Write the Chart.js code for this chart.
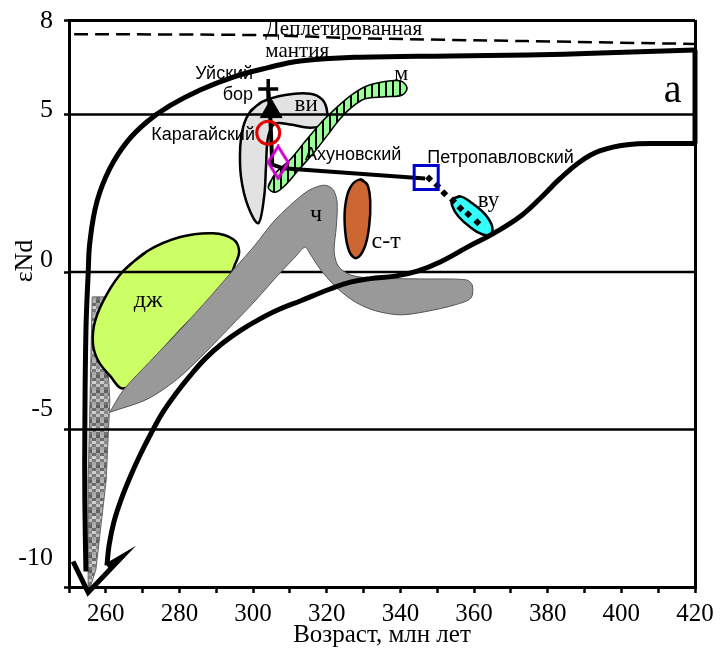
<!DOCTYPE html>
<html>
<head>
<meta charset="utf-8">
<script src="https://cdn.jsdelivr.net/npm/chart.js@4.4.1/dist/chart.umd.min.js"></script>
<style>
  html, body { margin: 0; padding: 0; background: #fff; }
  canvas { display: block; }
</style>
</head>
<body>
<canvas id="c" width="722" height="654"></canvas>
<script>
// ---- axes ----
const xTickValues = [250, 260, 270, 280, 290, 300, 310, 320, 330, 340, 350, 360, 370, 380, 390, 400, 410, 420];
const xTickLabels = ['260', '280', '300', '320', '340', '360', '380', '400', '420'];
const yTickValues = [8, 5, 0, -5, -10];
const yTickLabels = ['8', '5', '0', '-5', '-10'];
const levelLines = [5, 0, -5];

// ---- depleted mantle (age, εNd) ----
const depletedMantle = [[251.4, 7.55], [302, 7.52], [329.1, 7.42], [374.5, 7.33], [420, 7.24]];

// ---- evolution envelope ----
const envelopeLower = [[260.3, -9.32], [260.9, -8.66], [262.2, -7.93], [264.1, -7.24], [266.6, -6.51], [269.3, -5.81],
  [272.3, -5.12], [275.5, -4.45], [279.1, -3.85], [282.9, -3.29], [287.0, -2.75], [291.6, -2.27], [296.5, -1.86],
  [301.4, -1.52], [306.8, -1.20], [312.8, -0.92], [320.9, -0.54], [326.4, -0.32], [331.8, -0.21], [338.6, -0.13],
  [344.6, 0.03], [350.8, 0.32], [358.2, 0.79], [365.8, 1.26], [372.6, 1.77], [378.0, 2.34], [383.4, 2.97],
  [388.9, 3.51], [394.3, 3.85], [401.6, 4.04], [410.6, 4.08], [420, 4.08]];
const envelopeRight = [[420, 4.08], [420, 7.05]];
const envelopeUpper = [[420, 7.05], [394.3, 6.95], [374.5, 6.89], [353.5, 6.86], [329.1, 6.82], [312.8, 6.70],
  [303.8, 6.48], [294.6, 6.19], [285.6, 5.78], [277.4, 5.28], [271.2, 4.77], [265.8, 4.14], [261.1, 3.29],
  [257.6, 2.24], [255.7, 0.98], [255.2, -0.06], [254.6, -1.86], [254.3, -5.02], [254.3, -7.24], [254.6, -9.51]];
const arrowHead = [[260.3, -9.32], [264.4, -9.04], [255.2, -10.17], [251.1, -9.19]];

// ---- fields ----
const wedgeField = [[256.3, -0.79], [259.5, -0.79], [261.1, -4.08], [260.1, -6.60], [257.3, -9.45], [255.4, -10.14],
  [255.2, -6.60], [255.7, -4.08]];
const djField = [[264.7, 0.03], [271.2, 0.66], [280.2, 1.11], [289.1, 1.23], [294.6, 1.04], [296.2, 0.66], [295.1, 0.25],
  [292.4, -0.44], [280.2, -1.86], [269.3, -3.29], [264.7, -3.70], [261.1, -3.29], [257.9, -2.81], [256.5, -2.27],
  [257.1, -1.55], [260.3, -0.70]];
const viField = [[299.2, 5.09], [302.4, 5.40], [308.7, 5.62], [315.5, 5.66], [318.8, 5.47], [320.1, 5.09], [319.6, 4.71],
  [315.5, 4.58], [310.1, 4.68], [306.0, 4.71], [304.1, 4.30], [303.5, 3.35], [303.0, 2.40], [301.4, 1.55],
  [298.6, 2.09], [296.7, 3.03], [296.5, 3.98], [297.3, 4.61]];
const mField = [[304.1, 2.69], [306.0, 3.13], [310.1, 3.57], [314.1, 4.14], [318.2, 4.71], [322.3, 5.18], [326.4, 5.59],
  [330.4, 5.88], [335.1, 6.03], [339.9, 6.07], [341.8, 5.85], [340.5, 5.62], [335.9, 5.56], [330.4, 5.50],
  [326.6, 5.21], [323.4, 4.83], [320.1, 4.33], [316.3, 3.76], [312.2, 3.22], [308.7, 2.75], [306.0, 2.53]];
const chField = [[261.1, -4.45], [264.7, -3.76], [272.0, -2.84], [280.2, -1.83], [288.3, -0.79], [295.1, 0.13],
  [300.5, 0.85], [305.4, 1.58], [310.1, 2.12], [314.7, 2.56], [317.7, 2.72], [319.8, 2.75], [321.7, 2.62],
  [322.8, 2.24], [322.6, 1.45], [322.0, 0.66], [323.1, 0.19], [326.4, -0.09], [331.8, -0.19], [345.4, -0.22],
  [357.9, -0.25], [359.5, -0.41], [359.2, -0.82], [354.9, -1.04], [346.7, -1.26], [339.9, -1.36], [333.2, -1.23],
  [327.7, -0.95], [322.8, -0.51], [318.2, 0.09], [315.5, 0.57], [314.1, 0.79], [311.7, 0.51], [307.3, -0.03],
  [300.5, -0.92], [293.8, -1.74], [287.0, -2.56], [279.6, -3.38], [271.2, -4.04], [261.1, -4.45]];
const stField = [[329.1, 2.94], [331.0, 2.78], [331.8, 2.24], [331.5, 1.45], [330.2, 0.76], [328.0, 0.44],
  [326.1, 0.66], [325.0, 1.30], [325.0, 2.09], [326.4, 2.69]];
const vuField = [[354.1, 2.31], [356.3, 2.40], [359.5, 2.18], [363.0, 1.83], [364.9, 1.45], [364.4, 1.20],
  [362.2, 1.20], [359.0, 1.42], [355.7, 1.77], [354.1, 2.09]];

// ---- massifs ----
const uyskyBor = [304.1, 5.81];
const uyskyTriangle = [304.9, 5.10];
const karagaysky = [304.1, 4.42];
const akhunovsky = [306.8, 3.48];
const petropavlovsky = [347.0, 3.00];
const trendLine = [[304.1, 5.81], [304.6, 5.09], [305.2, 3.41], [308.2, 3.29], [346.7, 2.97]];
const trendDots = [[347.8, 2.97], [350.0, 2.75], [351.9, 2.50], [354.3, 2.27], [356.3, 2.02], [358.4, 1.83], [360.9, 1.58]];

// ---- labels (age, εNd) ----
const serif = '"Liberation Serif", "Times New Roman", serif';
const sans = '"Liberation Sans", Arial, sans-serif';
const annotations = [
  { text: 'Деплетированная', x: 303.3, y: 7.71, font: '21px ' + serif, align: 'left' },
  { text: 'мантия', x: 303.3, y: 7.01, font: '21px ' + serif, align: 'left' },
  { text: 'Уйский', x: 300.0, y: 6.29, font: '18px ' + sans, align: 'right' },
  { text: 'бор', x: 300.0, y: 5.62, font: '18px ' + sans, align: 'right' },
  { text: 'Карагайский', x: 300.5, y: 4.36, font: '18px ' + sans, align: 'right' },
  { text: 'Ахуновский', x: 314.1, y: 3.70, font: '18px ' + sans, align: 'left' },
  { text: 'Петропавловский', x: 347.3, y: 3.63, font: '18px ' + sans, align: 'left' },
  { text: 'ви', x: 314.4, y: 5.31, font: '23px ' + serif, align: 'center' },
  { text: 'м', x: 340.2, y: 6.29, font: '22px ' + serif, align: 'center' },
  { text: 'ч', x: 317.1, y: 1.83, font: '24px ' + serif, align: 'center' },
  { text: 'с-т', x: 336.1, y: 0.95, font: '24px ' + serif, align: 'center' },
  { text: 'ву', x: 363.9, y: 2.25, font: '23px ' + serif, align: 'center' },
  { text: 'дж', x: 271.5, y: -0.92, font: '24px ' + serif, align: 'center' },
  { text: 'а', x: 413.9, y: 5.72, font: '40px ' + serif, align: 'center' }
];

const canvas = document.getElementById('c');
const ctx = canvas.getContext('2d');

function stripePattern() {
  const c = document.createElement('canvas');
  c.width = 7; c.height = 7;
  const g = c.getContext('2d');
  g.fillStyle = '#99FF99'; g.fillRect(0, 0, 7, 7);
  g.fillStyle = '#000'; g.fillRect(0, 0, 2, 7);
  return ctx.createPattern(c, 'repeat');
}
function checkerPattern() {
  const c = document.createElement('canvas');
  c.width = 8; c.height = 15;
  const g = c.getContext('2d');
  const shades = [['#5e5e5e', '#b4b4b4'], ['#a0a0a0', '#6a6a6a'], ['#8a8a8a', '#d0d0d0'],
    ['#c0c0c0', '#7a7a7a'], ['#727272', '#a8a8a8']];
  for (let r = 0; r < 5; r++) for (let k = 0; k < 2; k++) {
    g.fillStyle = shades[r][k]; g.fillRect(k * 4, r * 3, 4, 3);
  }
  return ctx.createPattern(c, 'repeat');
}
function diamondImage() {
  const c = document.createElement('canvas');
  c.width = 26; c.height = 36;
  const g = c.getContext('2d');
  g.strokeStyle = '#CC00CC'; g.lineWidth = 3;
  g.beginPath(); g.moveTo(13, 2); g.lineTo(23, 18); g.lineTo(13, 34); g.lineTo(3, 18); g.closePath(); g.stroke();
  return c;
}

const toPts = arr => arr.map(([x, y]) => ({ x, y }));
const smoothLoop = arr => toPts(arr.concat([arr[0], arr[1]]));

function field(points, fill, stroke, width, order, tension) {
  return { data: points, showLine: true, fill: 'shape', backgroundColor: fill, borderColor: stroke,
    borderWidth: width, pointRadius: 0, tension, order, clip: false, borderJoinStyle: 'round' };
}
function line(points, color, width, order, tension, extra) {
  return Object.assign({ data: points, showLine: true, fill: false, borderColor: color, borderWidth: width,
    pointRadius: 0, tension, order, clip: false, borderCapStyle: 'butt' }, extra || {});
}
function marker(p, style, radius, fill, stroke, width, order) {
  return { data: toPts([p]), showLine: false, pointStyle: style, pointRadius: radius,
    backgroundColor: fill, borderColor: stroke, borderWidth: width, order, clip: false };
}

const datasets = [
  field(toPts(wedgeField.concat([wedgeField[0]])), checkerPattern(), '#666', 1, 30, 0),
  field(smoothLoop(djField), '#CCFF66', '#000', 2.5, 29, 0.4),
  field(smoothLoop(viField), '#E2E2E2', '#000', 2.5, 28, 0.35),
  field(smoothLoop(mField), stripePattern(), '#000', 1.5, 27, 0.35),
  ...levelLines.map(v => line(toPts([[250, v], [420, v]]), '#000', 2.5, 26, 0)),
  field(toPts(chField), '#999999', '#555', 1, 25, 0.3),
  field(smoothLoop(stField), '#CC6633', '#000', 2.5, 24, 0.4),
  field(smoothLoop(vuField), '#33FFFF', '#000', 2.5, 23, 0.4),
  line(toPts(depletedMantle), '#000', 2.5, 22, 0.3, { borderDash: [14, 7] }),
  line(toPts(envelopeLower), '#000', 5, 21, 0.4),
  line(toPts(envelopeRight), '#000', 5, 21, 0),
  line(toPts(envelopeUpper), '#000', 5, 21, 0.4),
  line(toPts(arrowHead), '#000', 5, 21, 0, { borderJoinStyle: 'miter' }),
  line(toPts(trendLine), '#000', 4, 20, 0, { borderJoinStyle: 'miter' }),
  { data: toPts(trendDots), showLine: false, pointStyle: 'rectRot', pointRadius: 4, backgroundColor: '#000',
    borderColor: '#000', borderWidth: 0, order: 19 },
  marker(uyskyBor, 'cross', 10, '#000', '#000', 3.5, 18),
  marker(uyskyTriangle, 'triangle', 12.5, '#000', '#000', 1, 17),
  marker(karagaysky, 'circle', 11.5, 'rgba(0,0,0,0)', '#E00000', 3, 16),
  marker(akhunovsky, diamondImage(), 10, 'rgba(0,0,0,0)', '#CC00CC', 3, 15),
  marker(petropavlovsky, 'rect', 17, 'rgba(0,0,0,0)', '#0000CC', 3, 14)
];

const textPlugin = {
  id: 'diagramText',
  afterDatasetsDraw(chart) {
    const { ctx, scales: { x, y }, chartArea } = chart;
    ctx.save();
    ctx.fillStyle = '#000';
    ctx.textBaseline = 'middle';
    for (const a of annotations) {
      ctx.font = a.font;
      ctx.textAlign = a.align;
      ctx.fillText(a.text, x.getPixelForValue(a.x), y.getPixelForValue(a.y));
    }
    ctx.translate(chartArea.left - 44, y.getPixelForValue(0.35));
    ctx.rotate(-Math.PI / 2);
    ctx.textAlign = 'center';
    ctx.font = '26px ' + serif;
    ctx.fillText('εNd', 0, 0);
    ctx.restore();
  }
};

new Chart(ctx, {
  type: 'scatter',
  data: { datasets },
  options: {
    responsive: false,
    animation: false,
    events: [],
    layout: { padding: { top: 17, right: 27, left: 0, bottom: 0 } },
    plugins: { legend: { display: false }, tooltip: { enabled: false } },
    elements: { line: { capBezierPoints: false } },
    scales: {
      x: {
        type: 'linear', min: 250, max: 420,
        afterBuildTicks: s => { s.ticks = xTickValues.map(v => ({ value: v })); },
        ticks: {
          autoSkip: false, maxRotation: 0, color: '#000', padding: 6,
          font: { family: serif, size: 25 },
          callback: v => (xTickLabels.includes(String(v)) ? String(v) : '')
        },
        grid: {
          color: c => (c.tick && c.tick.value === 420 ? '#000' : 'rgba(0,0,0,0)'),
          lineWidth: 3, tickColor: '#000', tickWidth: 2.5, tickLength: 6
        },
        border: { display: true, color: '#000', width: 3 },
        title: { display: true, text: 'Возраст, млн лет', color: '#000',
          font: { family: serif, size: 25 }, padding: { top: 0, bottom: 4 } },
        afterFit: s => { s.height = 67; }
      },
      y: {
        type: 'linear', min: -10, max: 8, position: 'left', weight: 0,
        afterBuildTicks: s => { s.ticks = yTickValues.map(v => ({ value: v })); },
        ticks: { display: false },
        grid: {
          color: c => (c.tick && c.tick.value === 8 ? '#000' : 'rgba(0,0,0,0)'),
          lineWidth: 3, tickColor: '#000', tickWidth: 2.5, tickLength: 5
        },
        border: { display: true, color: '#000', width: 3 },
        afterFit: s => { s.width = 16; }
      },
      yl: {
        type: 'linear', min: -10.967, max: 8.033, position: 'left', weight: 1,
        afterBuildTicks: s => { s.ticks = yTickValues.map(v => ({ value: v })); },
        ticks: {
          color: '#000', padding: 0, font: { family: serif, size: 26, lineHeight: 0.5 },
          callback: v => yTickLabels[yTickValues.indexOf(v)]
        },
        grid: { display: false, drawTicks: false },
        border: { display: false },
        afterFit: s => { s.width = 53; }
      }
    }
  },
  plugins: [textPlugin]
});
</script>
</body>
</html>
